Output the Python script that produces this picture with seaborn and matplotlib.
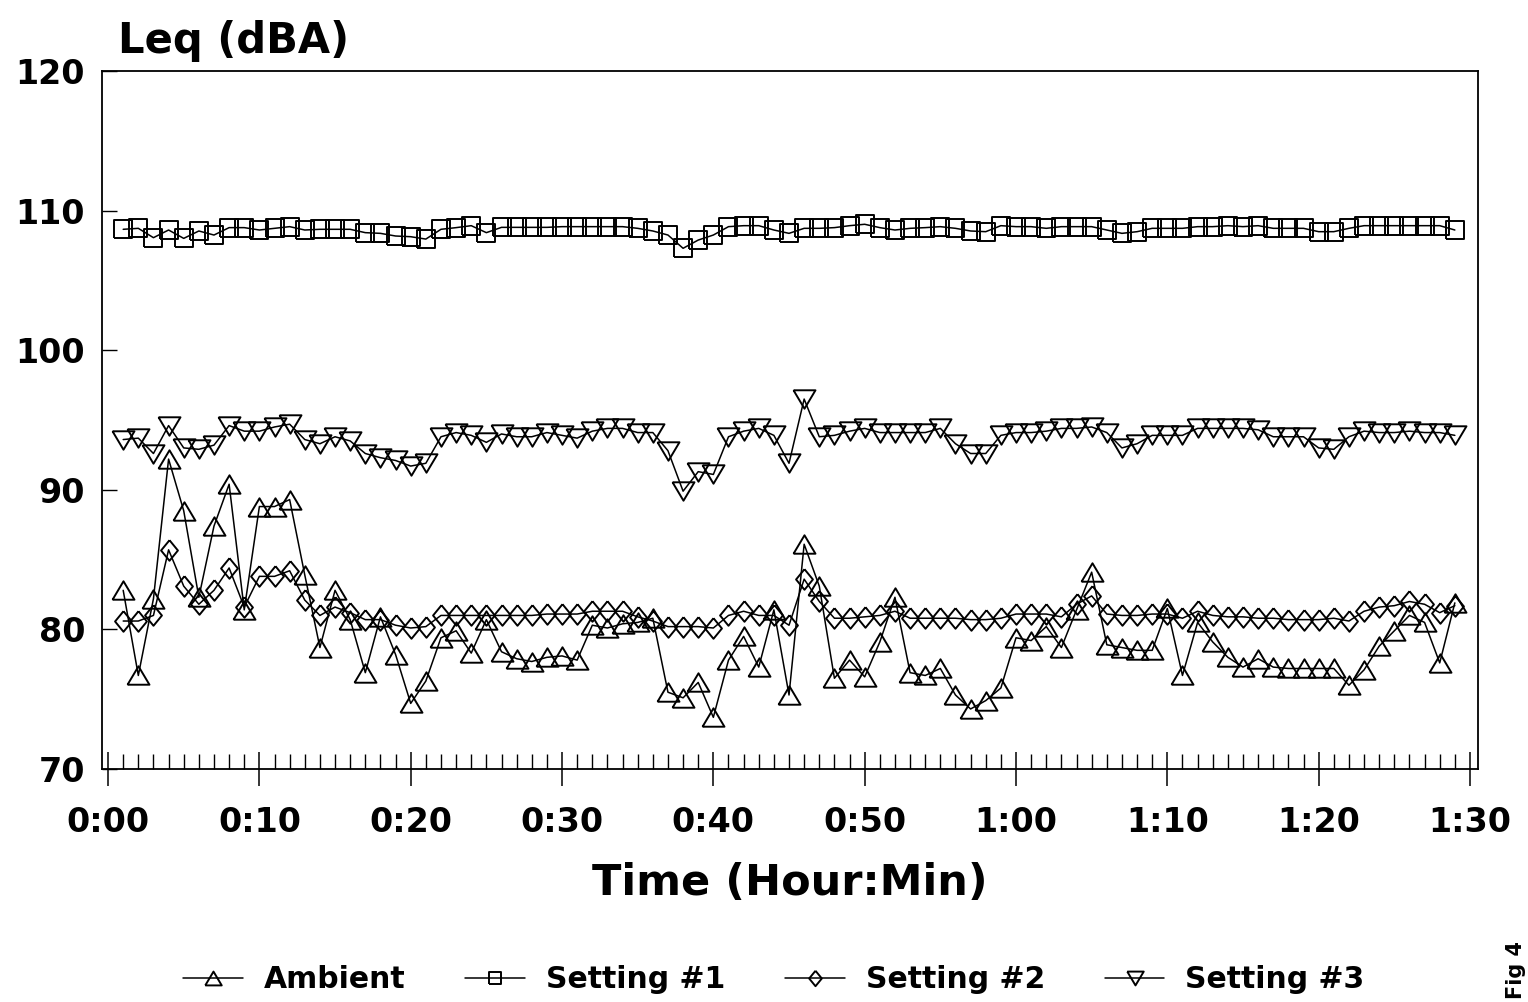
import matplotlib
matplotlib.use("Agg")
import matplotlib.pyplot as plt
import seaborn as sns
import pandas as pd
from matplotlib.ticker import FixedLocator, MultipleLocator

# ---------------- data (minute index 1..89) ----------------
minutes = list(range(1, 90))

ambient = [
    82.8, 76.7, 82.2, 92.2, 88.5, 82.3, 87.4, 90.4, 81.4, 88.8,
    88.8, 89.3, 83.9, 78.7, 82.8, 80.7, 76.9, 80.9, 78.2, 74.7,
    76.3, 79.4, 79.9, 78.3, 80.7, 78.4, 77.9, 77.7, 78.0, 78.1,
    77.8, 80.3, 80.1, 80.4, 80.5, 80.8, 75.5, 75.1, 76.2, 73.7,
    77.8, 79.5, 77.3, 81.4, 75.3, 86.1, 83.1, 76.5, 77.8, 76.6,
    79.1, 82.3, 76.9, 76.7, 77.2, 75.3, 74.3, 74.9, 75.8, 79.4,
    79.2, 80.2, 78.7, 81.4, 84.1, 78.9, 78.7, 78.5, 78.5, 81.5,
    76.7, 80.5, 79.1, 78.0, 77.3, 77.9, 77.3, 77.2, 77.2, 77.2,
    77.2, 76.0, 77.1, 78.8, 79.9, 81.0, 80.5, 77.6, 81.9,
]

setting1 = [
    108.66, 108.73, 108.06, 108.61, 108.01, 108.54, 108.25, 108.78, 108.78, 108.61,
    108.73, 108.85, 108.61, 108.66, 108.66, 108.66, 108.42, 108.37, 108.18, 108.13,
    107.96, 108.66, 108.78, 108.92, 108.42, 108.80, 108.80, 108.80, 108.80, 108.85,
    108.85, 108.85, 108.85, 108.85, 108.73, 108.54, 108.25, 107.30, 107.89, 108.25,
    108.85, 108.92, 108.92, 108.61, 108.37, 108.73, 108.73, 108.78, 108.92, 109.02,
    108.78, 108.61, 108.73, 108.78, 108.85, 108.73, 108.54, 108.49, 108.92, 108.85,
    108.85, 108.73, 108.85, 108.85, 108.85, 108.61, 108.37, 108.49, 108.73, 108.73,
    108.73, 108.85, 108.85, 108.92, 108.85, 108.92, 108.73, 108.73, 108.73, 108.49,
    108.49, 108.73, 108.92, 108.92, 108.92, 108.92, 108.92, 108.92, 108.61,
]

setting2 = [
    80.6, 80.6, 81.0, 85.7, 83.1, 81.8, 82.8, 84.4, 81.6, 83.8,
    83.8, 84.2, 82.1, 81.0, 81.6, 81.2, 80.7, 80.7, 80.3, 80.1,
    80.2, 81.0, 81.0, 81.0, 81.0, 81.0, 81.0, 81.0, 81.1, 81.1,
    81.1, 81.3, 81.3, 81.3, 80.9, 80.6, 80.2, 80.2, 80.2, 80.1,
    81.0, 81.3, 81.0, 81.0, 80.3, 83.6, 82.0, 80.8, 80.8, 80.9,
    81.0, 81.3, 80.8, 80.8, 80.8, 80.8, 80.7, 80.7, 80.8, 81.1,
    81.1, 81.1, 80.9, 81.8, 82.4, 81.1, 81.0, 81.0, 81.1, 81.1,
    80.8, 81.3, 81.0, 80.9, 80.9, 80.8, 80.8, 80.7, 80.7, 80.7,
    80.8, 80.6, 81.3, 81.6, 81.7, 82.0, 81.8, 81.2, 81.7,
]

setting3 = [
    93.6, 93.7, 92.6, 94.6, 93.0, 92.9, 93.2, 94.6, 94.2, 94.2,
    94.5, 94.7, 93.6, 93.3, 93.8, 93.5, 92.6, 92.3, 92.1, 91.7,
    91.9, 93.8, 94.1, 93.9, 93.4, 94.0, 93.8, 93.8, 94.1, 93.9,
    93.7, 94.2, 94.4, 94.4, 94.1, 94.1, 92.8, 89.9, 91.3, 91.1,
    93.8, 94.2, 94.4, 93.9, 91.9, 96.5, 93.8, 93.9, 94.2, 94.4,
    94.1, 94.1, 94.1, 94.1, 94.4, 93.3, 92.6, 92.6, 93.9, 94.1,
    94.1, 94.2, 94.4, 94.4, 94.5, 94.1, 93.0, 93.3, 93.9, 93.9,
    93.9, 94.4, 94.4, 94.4, 94.4, 94.3, 93.8, 93.8, 93.8, 93.0,
    92.9, 93.8, 94.2, 94.1, 94.1, 94.2, 94.1, 94.1, 93.9,
]

series_names = ["Ambient", "Setting #1", "Setting #2", "Setting #3"]
y_ticks = [70, 80, 90, 100, 110, 120]
x_ticks = [0, 10, 20, 30, 40, 50, 60, 70, 80, 90]
x_tick_labels = ["0:00", "0:10", "0:20", "0:30", "0:40", "0:50",
                 "1:00", "1:10", "1:20", "1:30"]

# ---------------- style ----------------
sns.set_style("ticks")
plt.rcParams["font.family"] = ["DejaVu Sans"]
plt.rcParams["font.weight"] = "bold"
for key in ["text.color", "axes.labelcolor", "xtick.color", "ytick.color",
            "axes.edgecolor"]:
    plt.rcParams[key] = "black"

W, H = 1528, 1002
fig = plt.figure(figsize=(W / 100, H / 100), dpi=100)
left_px, right_px, top_px, bot_px = 101.7, 1478.0, 71.0, 769.0
ax = fig.add_axes([left_px / W, 1 - bot_px / H,
                   (right_px - left_px) / W, (bot_px - top_px) / H])

tri_up = [(-1, -0.84), (1, -0.84), (0, 0.84), (-1, -0.84)]
tri_dn = [(-1, 0.84), (1, 0.84), (0, -0.84), (-1, 0.84)]
square = [(-1, -1), (1, -1), (1, 1), (-1, 1), (-1, -1)]
diamond = [(0, 1), (0.82, 0), (0, -1), (-0.82, 0), (0, 1)]

styles = {
    "Ambient": (tri_up, 15.8),
    "Setting #1": (square, 12.3),
    "Setting #2": (diamond, 14.8),
    "Setting #3": (tri_dn, 15.8),
}

for name, vals in zip(series_names, [ambient, setting1, setting2, setting3]):
    df = pd.DataFrame({"minute": minutes, "Leq": vals})
    mk, ms = styles[name]
    sns.lineplot(data=df, x="minute", y="Leq", ax=ax, color="black",
                 linewidth=1.1, marker=mk, markersize=ms,
                 markerfacecolor="none", markeredgecolor="black",
                 markeredgewidth=1.4, errorbar=None, label=name)

ax.set_xlim(-0.42, 90.53)
ax.set_ylim(70, 120)

ax.xaxis.set_major_locator(FixedLocator(x_ticks))
ax.set_xticklabels(x_tick_labels)
ax.xaxis.set_minor_locator(MultipleLocator(1))
ax.yaxis.set_major_locator(FixedLocator(y_ticks))
ax.set_yticklabels([str(v) for v in y_ticks])

ax.tick_params(axis="x", which="major", direction="inout", length=24,
               width=1.1, pad=15, labelsize=24, bottom=True, top=False,
               colors="black")
ax.tick_params(axis="x", which="minor", direction="in", length=11,
               width=1.0, bottom=True, top=False, colors="black")
ax.tick_params(axis="y", which="major", direction="in", length=11,
               width=1.0, pad=12, labelsize=24, left=True, right=False,
               colors="black")
for lab in ax.get_xticklabels() + ax.get_yticklabels():
    lab.set_fontweight("bold")
    lab.set_color("black")

for sp in ax.spines.values():
    sp.set_visible(True)
    sp.set_linewidth(1.3)
    sp.set_color("black")

ax.set_xlabel("Time (Hour:Min)", fontsize=31, fontweight="bold",
              color="black")
ax.xaxis.set_label_coords(0.5, (bot_px - 883) / (bot_px - top_px))
ax.xaxis.label.set_va("center")

ax.set_ylabel("Leq (dBA)", fontsize=30, fontweight="bold", rotation=0,
              color="black")
ax.yaxis.set_label_coords((118 - left_px) / (right_px - left_px),
                          (bot_px - 41) / (bot_px - top_px))
ax.yaxis.label.set_ha("left")
ax.yaxis.label.set_va("center")

handles, labels = ax.get_legend_handles_labels()
if ax.get_legend() is not None:
    ax.get_legend().remove()
leg = fig.legend(handles, labels, loc="center", ncol=4, frameon=False,
                 bbox_to_anchor=(774 / W, 1 - 980 / H),
                 prop={"size": 21.5, "weight": "bold"},
                 handlelength=2.0, handletextpad=0.7, columnspacing=2.0,
                 markerscale=0.75)
for t in leg.get_texts():
    t.set_color("black")

fig.text(1526 / W, 1 - 999 / H, "Fig 4", rotation=90, ha="right",
         va="bottom", fontsize=15, fontweight="bold", color="black")

fig.savefig("out.png", dpi=100, facecolor="white")
